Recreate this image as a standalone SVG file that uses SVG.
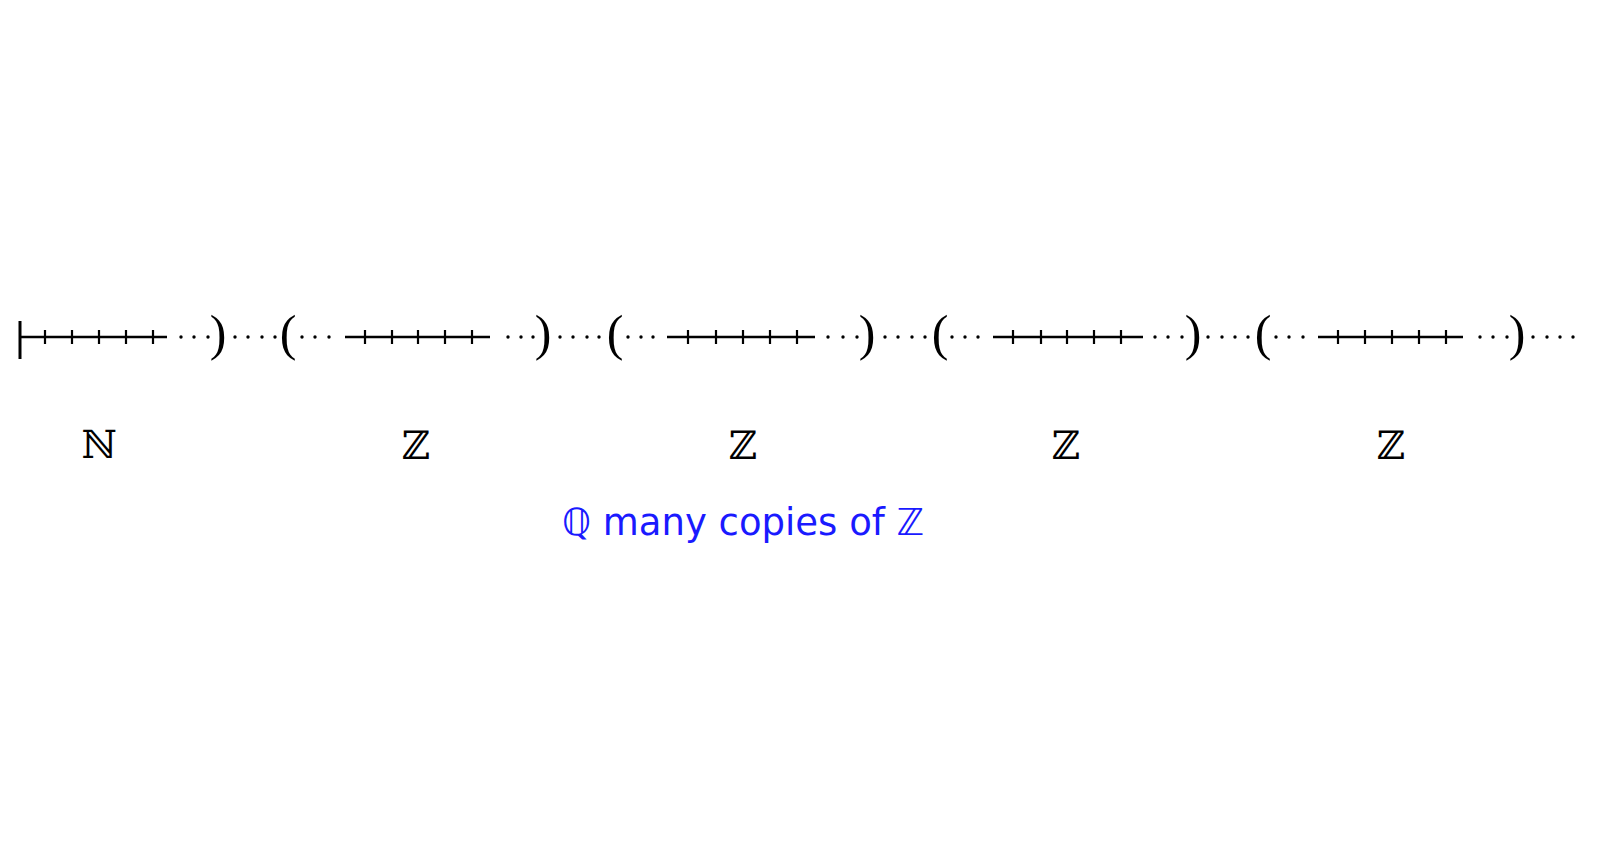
<svg xmlns="http://www.w3.org/2000/svg" width="1600" height="858" viewBox="0 0 1600 858">
<style>
.ln{stroke:#000;stroke-width:2.4;fill:none}
.tk{stroke:#000;stroke-width:2.2}
.dt{fill:#000}
.par{font-family:"Liberation Serif","DejaVu Serif",serif;font-size:50px;fill:#000;text-anchor:middle}
.lbl{font-family:"DejaVu Serif",serif;font-size:39px;fill:#000;text-anchor:middle}
.blue{font-family:"DejaVu Sans","Noto Sans",sans-serif;font-size:37px;fill:#1a1aff;text-anchor:middle}
</style>
<rect width="1600" height="858" fill="#fff"/>
<g id="connectors">
<g id="seg-N">
<line x1="20" y1="321" x2="20" y2="359" stroke="#000" stroke-width="3"/>
<line class="ln" x1="20" y1="337" x2="167" y2="337"/>
<path class="tk" d="M45 330V344M72 330V344M99 330V344M126 330V344M153 330V344"/>
<circle class="dt" cx="181" cy="337" r="1.7"/><circle class="dt" cx="194" cy="337" r="1.7"/><circle class="dt" cx="208" cy="337" r="1.7"/>
<text class="par" x="218" y="350">)</text>
</g>
<g id="gap1"><circle class="dt" cx="235" cy="337" r="1.7"/><circle class="dt" cx="248" cy="337" r="1.7"/><circle class="dt" cx="262" cy="337" r="1.7"/><circle class="dt" cx="275" cy="337" r="1.7"/></g>
<g id="seg-Z1">
<text class="par" x="288" y="350">(</text>
<circle class="dt" cx="302" cy="337" r="1.7"/><circle class="dt" cx="315" cy="337" r="1.7"/><circle class="dt" cx="329" cy="337" r="1.7"/>
<line class="ln" x1="345" y1="337" x2="490" y2="337"/>
<path class="tk" d="M365 330V344M392 330V344M418 330V344M445 330V344M472 330V344"/>
<circle class="dt" cx="508" cy="337" r="1.7"/><circle class="dt" cx="521" cy="337" r="1.7"/><circle class="dt" cx="533" cy="337" r="1.7"/>
<text class="par" x="543" y="350">)</text>
</g>
<g id="gap2"><circle class="dt" cx="560" cy="337" r="1.7"/><circle class="dt" cx="573" cy="337" r="1.7"/><circle class="dt" cx="587" cy="337" r="1.7"/><circle class="dt" cx="599" cy="337" r="1.7"/></g>
<g id="seg-Z2">
<text class="par" x="615" y="350">(</text>
<circle class="dt" cx="628" cy="337" r="1.7"/><circle class="dt" cx="641" cy="337" r="1.7"/><circle class="dt" cx="653" cy="337" r="1.7"/>
<line class="ln" x1="667" y1="337" x2="815" y2="337"/>
<path class="tk" d="M688 330V344M716 330V344M743 330V344M770 330V344M797 330V344"/>
<circle class="dt" cx="828" cy="337" r="1.7"/><circle class="dt" cx="843" cy="337" r="1.7"/><circle class="dt" cx="857" cy="337" r="1.7"/>
<text class="par" x="867" y="350">)</text>
</g>
<g id="gap3"><circle class="dt" cx="885" cy="337" r="1.7"/><circle class="dt" cx="898" cy="337" r="1.7"/><circle class="dt" cx="912" cy="337" r="1.7"/><circle class="dt" cx="925" cy="337" r="1.7"/></g>
<g id="seg-Z3">
<text class="par" x="940" y="350">(</text>
<circle class="dt" cx="952" cy="337" r="1.7"/><circle class="dt" cx="965" cy="337" r="1.7"/><circle class="dt" cx="978" cy="337" r="1.7"/>
<line class="ln" x1="993" y1="337" x2="1143" y2="337"/>
<path class="tk" d="M1013 330V344M1041 330V344M1067 330V344M1094 330V344M1121 330V344"/>
<circle class="dt" cx="1155" cy="337" r="1.7"/><circle class="dt" cx="1168" cy="337" r="1.7"/><circle class="dt" cx="1182" cy="337" r="1.7"/>
<text class="par" x="1193" y="350">)</text>
</g>
<g id="gap4"><circle class="dt" cx="1208" cy="337" r="1.7"/><circle class="dt" cx="1222" cy="337" r="1.7"/><circle class="dt" cx="1235" cy="337" r="1.7"/><circle class="dt" cx="1248" cy="337" r="1.7"/></g>
<g id="seg-Z4">
<text class="par" x="1263" y="350">(</text>
<circle class="dt" cx="1276" cy="337" r="1.7"/><circle class="dt" cx="1289" cy="337" r="1.7"/><circle class="dt" cx="1303" cy="337" r="1.7"/>
<line class="ln" x1="1318" y1="337" x2="1463" y2="337"/>
<path class="tk" d="M1338 330V344M1365 330V344M1392 330V344M1419 330V344M1446 330V344"/>
<circle class="dt" cx="1480" cy="337" r="1.7"/><circle class="dt" cx="1493" cy="337" r="1.7"/><circle class="dt" cx="1507" cy="337" r="1.7"/>
<text class="par" x="1517" y="350">)</text>
</g>
<g id="tail"><circle class="dt" cx="1533" cy="337" r="1.7"/><circle class="dt" cx="1547" cy="337" r="1.7"/><circle class="dt" cx="1560" cy="337" r="1.7"/><circle class="dt" cx="1573" cy="337" r="1.7"/></g>
</g>
<g id="label-N"><text class="lbl" x="99" y="458">ℕ</text></g>
<g id="label-Z1"><text class="lbl" x="416" y="459">ℤ</text></g>
<g id="label-Z2"><text class="lbl" x="743" y="459">ℤ</text></g>
<g id="label-Z3"><text class="lbl" x="1066" y="459">ℤ</text></g>
<g id="label-Z4"><text class="lbl" x="1391" y="459">ℤ</text></g>
<g id="caption"><text class="blue" x="743" y="535">ℚ many copies of ℤ</text></g>
</svg>
